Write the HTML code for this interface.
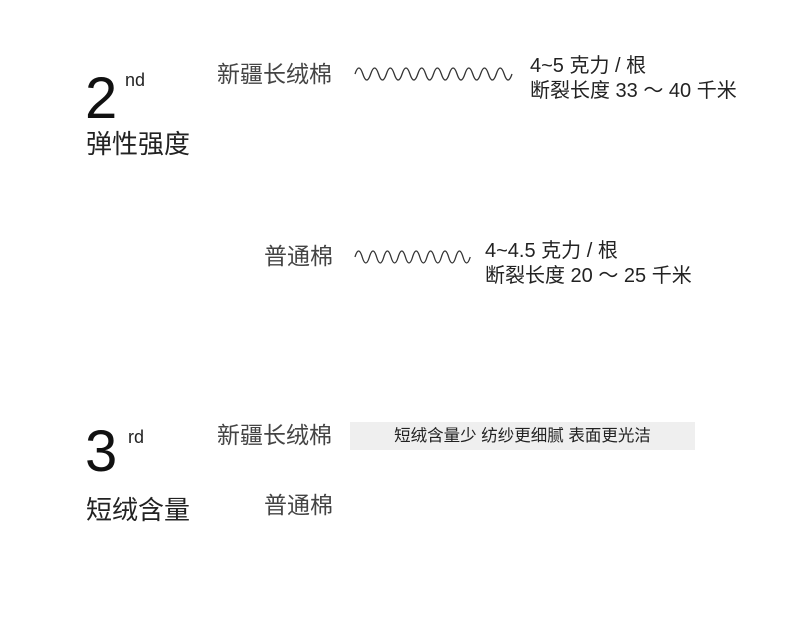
<!DOCTYPE html>
<html><head><meta charset="utf-8"><style>
html,body{margin:0;padding:0;background:#fff;}
body{width:790px;height:628px;position:relative;overflow:hidden;font-family:"Liberation Sans","Noto Sans CJK SC",sans-serif;color:#222;}
.a{position:absolute;white-space:nowrap;line-height:1;}
</style></head><body>
<div class="a" style="left:85px;top:70px;font-size:58px;color:#111;">2</div>
<div class="a" style="left:125px;top:71px;font-size:18px;">nd</div>
<div class="a" style="left:86px;top:131px;font-size:26px;">弹性强度</div>
<div class="a" style="left:217px;top:63px;font-size:23px;color:#444;">新疆长绒棉</div>
<svg class="a" style="left:350px;top:62px" width="170" height="24"><path fill="none" stroke="#333" stroke-width="1.3" d="M5 12 c2.6 -8 5.2 -8 7.85 0 c2.6 8 5.2 8 7.85 0 c2.6 -8 5.2 -8 7.85 0 c2.6 8 5.2 8 7.85 0 c2.6 -8 5.2 -8 7.85 0 c2.6 8 5.2 8 7.85 0 c2.6 -8 5.2 -8 7.85 0 c2.6 8 5.2 8 7.85 0 c2.6 -8 5.2 -8 7.85 0 c2.6 8 5.2 8 7.85 0 c2.6 -8 5.2 -8 7.85 0 c2.6 8 5.2 8 7.85 0 c2.6 -8 5.2 -8 7.85 0 c2.6 8 5.2 8 7.85 0 c2.6 -8 5.2 -8 7.85 0 c2.6 8 5.2 8 7.85 0 c2.6 -8 5.2 -8 7.85 0 c2.6 8 5.2 8 7.85 0 c2.6 -8 5.2 -8 7.85 0 c2.6 8 5.2 8 7.85 0"/></svg>
<div class="a" style="left:530px;top:56px;font-size:20px;">4~5 克力 / 根</div>
<div class="a" style="left:530px;top:81px;font-size:20px;">断裂长度 33 ～ 40 千米</div>

<div class="a" style="left:264px;top:245px;font-size:23px;color:#444;">普通棉</div>
<svg class="a" style="left:350px;top:246px" width="125" height="24"><path fill="none" stroke="#333" stroke-width="1.3" d="M5 11 c2.4 -8 4.8 -8 7.2 0 c2.4 8 4.8 8 7.2 0 c2.4 -8 4.8 -8 7.2 0 c2.4 8 4.8 8 7.2 0 c2.4 -8 4.8 -8 7.2 0 c2.4 8 4.8 8 7.2 0 c2.4 -8 4.8 -8 7.2 0 c2.4 8 4.8 8 7.2 0 c2.4 -8 4.8 -8 7.2 0 c2.4 8 4.8 8 7.2 0 c2.4 -8 4.8 -8 7.2 0 c2.4 8 4.8 8 7.2 0 c2.4 -8 4.8 -8 7.2 0 c2.4 8 4.8 8 7.2 0 c2.4 -8 4.8 -8 7.2 0 c2.4 8 4.8 8 7.2 0"/></svg>
<div class="a" style="left:485px;top:241px;font-size:20px;">4~4.5 克力 / 根</div>
<div class="a" style="left:485px;top:266px;font-size:20px;">断裂长度 20 ～ 25 千米</div>

<div class="a" style="left:85px;top:423px;font-size:58px;color:#111;">3</div>
<div class="a" style="left:128px;top:428px;font-size:18px;">rd</div>
<div class="a" style="left:86px;top:497px;font-size:26px;">短绒含量</div>
<div class="a" style="left:217px;top:424px;font-size:23px;color:#444;">新疆长绒棉</div>
<div class="a" style="left:350px;top:422px;width:345px;height:28px;background:#efefef;"></div>
<div class="a" style="left:350px;top:428px;width:345px;text-align:center;font-size:16.5px;">短绒含量少 纺纱更细腻 表面更光洁</div>
<div class="a" style="left:264px;top:494px;font-size:23px;color:#444;">普通棉</div>
</body></html>
